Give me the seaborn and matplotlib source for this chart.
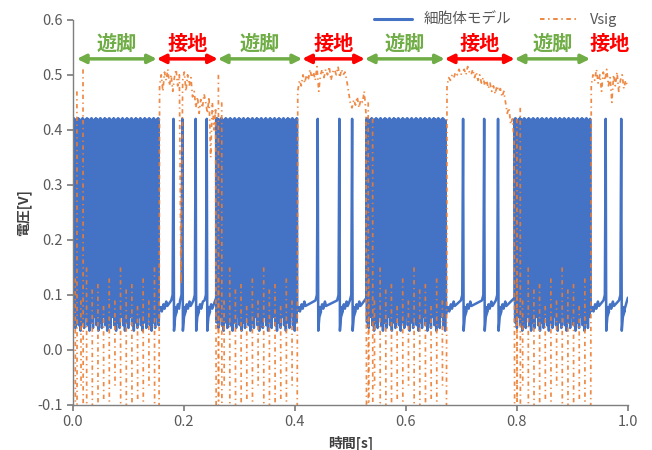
import numpy as np
import pandas as pd
import seaborn as sns
import matplotlib.pyplot as plt
from matplotlib.lines import Line2D
from matplotlib.ticker import FormatStrFormatter

# phase boundaries [s]
swing_start = [0.0, 0.258, 0.529, 0.796]
swing_end = [0.155, 0.404, 0.673, 0.933]
t_end = 1.0

# phase arrows (遊脚 / 接地) along the top
arrow_x0 = [0.007, 0.151, 0.261, 0.413, 0.526, 0.670, 0.796, 0.932]
arrow_x1 = [0.151, 0.261, 0.413, 0.526, 0.670, 0.796, 0.932, 1.004]
arrow_lab = ['遊脚', '接地', '遊脚', '接地', '遊脚', '接地', '遊脚', '接地']

# cell model (blue)
spike_t = [0.181, 0.197, 0.221, 0.241, 0.441, 0.480, 0.503,
           0.703, 0.741, 0.766, 0.960, 0.988]
swing_hi = [0.42, 0.415, 0.421, 0.417, 0.419]
swing_lo = [0.05, 0.08, 0.04, 0.07, 0.06, 0.09, 0.045, 0.075, 0.035, 0.065]
spike_dt = [-0.004, -0.0015, 0.0, 0.001, 0.003, 0.006]
spike_v = [0.09, 0.10, 0.42, 0.035, 0.06, 0.07]
creep_dt = [0.003, 0.005, 0.008, 0.010, 0.013, 0.015]
creep_v = [0.078, 0.07, 0.083, 0.075, 0.088, 0.08]

# Vsig (orange): pulses during swing, noisy plateau during stance
pulse_gap = 0.0102
pulse_top = [0.13, 0.09, 0.15, 0.11, 0.12, 0.08]
pulse_bot = [-0.15, -0.07, -0.15, -0.12, -0.15, -0.09]
tall_t = [0.007, 0.018, 0.262, 0.268, 0.532, 0.540, 0.800, 0.806]
tall_v = [0.47, 0.51, 0.50, 0.45, 0.45, 0.42, 0.42, 0.44]
stance_v = [
    [0.48, 0.50, 0.47, 0.505, 0.49, 0.51, 0.48, 0.50, 0.47, 0.495, 0.51, 0.48,
     0.50, 0.12, 0.49, 0.505, 0.47, 0.50, 0.48, 0.495, 0.46, 0.47, 0.44, 0.46,
     0.43, 0.455, 0.44, 0.465, 0.45, 0.43, 0.46, 0.35, 0.45, 0.40, 0.44],
    [0.47, 0.49, 0.48, 0.50, 0.485, 0.50, 0.49, 0.51, 0.495, 0.505, 0.49, 0.515,
     0.47, 0.50, 0.51, 0.495, 0.51, 0.50, 0.515, 0.49, 0.505, 0.51, 0.50, 0.515,
     0.495, 0.51, 0.50, 0.505, 0.49, 0.47, 0.45, 0.44, 0.455, 0.445, 0.46, 0.44,
     0.455, 0.45, 0.47, 0.43],
    [0.48, 0.495, 0.49, 0.50, 0.495, 0.505, 0.50, 0.51, 0.50, 0.505, 0.51, 0.50,
     0.515, 0.505, 0.50, 0.51, 0.495, 0.505, 0.49, 0.50, 0.485, 0.495, 0.48, 0.49,
     0.475, 0.485, 0.47, 0.48, 0.465, 0.48, 0.47, 0.475, 0.46, 0.47, 0.45, 0.43,
     0.44, 0.41, 0.42, 0.38],
    [0.48, 0.50, 0.49, 0.51, 0.485, 0.50, 0.47, 0.505, 0.49, 0.51, 0.48, 0.495,
     0.45, 0.50, 0.48, 0.505, 0.47, 0.49, 0.50, 0.475, 0.49, 0.48],
]

BLUE = '#4472C4'
ORANGE = '#ED7D31'
GREEN = '#70AD47'
RED = '#FF0000'
GRAY = '#595959'

# ---- build the cell model trace
stance_start = swing_end
stance_end = swing_start[1:] + [t_end]
bt, bv = [], []
for i in range(4):
    ts = np.arange(swing_start[i], swing_end[i], 0.0008)
    for k, t in enumerate(ts):
        bt.append(t)
        bv.append(swing_hi[k % len(swing_hi)] if k % 2 == 0 else swing_lo[(k // 2) % len(swing_lo)])
    a, b = stance_start[i], stance_end[i]
    bt.append(a); bv.append(0.07)
    marks = [a] + [s for s in spike_t if a < s < b]
    for j, m in enumerate(marks):
        nxt = marks[j + 1] if j + 1 < len(marks) else b
        for d, v in zip(creep_dt, creep_v):
            if m + d < nxt - 0.005:
                bt.append(m + d); bv.append(v)
        if j + 1 < len(marks):
            for d, v in zip(spike_dt, spike_v):
                bt.append(nxt + d); bv.append(v)
    bt.append(b); bv.append(0.095)
blue = pd.DataFrame({'t': bt, 'v': bv})

# ---- build Vsig as separate strokes (units)
ot, ov, ou = [], [], []
seg = 0
for i in range(4):
    p = swing_start[i] + 0.004
    k = 0
    while p < swing_end[i] - 0.002:
        ot += [p, p + 0.0003]
        ov += [pulse_top[k % len(pulse_top)], pulse_bot[k % len(pulse_bot)]]
        ou += [seg, seg]
        seg += 1
        p += pulse_gap
        k += 1
for t, v in zip(tall_t, tall_v):
    ot += [t, t + 0.0003]
    ov += [v, -0.15]
    ou += [seg, seg]
    seg += 1
for i in range(4):
    a, b = stance_start[i], stance_end[i]
    vals = stance_v[i]
    tt = np.linspace(a + 0.001, b - 0.001, len(vals))
    ot += [a] + list(tt)
    ov += [-0.15] + vals
    ou += [seg] * (len(vals) + 1)
    if i < 3:
        ot.append(b); ov.append(-0.15); ou.append(seg)
    seg += 1
vsig = pd.DataFrame({'t': ot, 'v': ov, 'u': ou})

# ---- plot
sns.set_theme(style='white')
plt.rcParams['font.family'] = ['Noto Sans CJK JP', 'DejaVu Sans']
plt.rcParams['axes.unicode_minus'] = False

fig, ax = plt.subplots(figsize=(6.52, 4.5), dpi=100)
fig.subplots_adjust(left=0.112, right=0.963, top=0.956, bottom=0.1)

sns.lineplot(data=blue, x='t', y='v', sort=False, estimator=None,
             color=BLUE, lw=1.8, ax=ax)
dash = (0, (2.5, 2, 0.8, 2))
sns.lineplot(data=vsig, x='t', y='v', units='u', sort=False, estimator=None,
             color=ORANGE, lw=1.25, linestyle=dash, alpha=0.9, ax=ax)

for x0, x1, lab in zip(arrow_x0, arrow_x1, arrow_lab):
    c = GREEN if lab == '遊脚' else RED
    ax.annotate('', xy=(x1, 0.529), xytext=(x0, 0.529),
                arrowprops=dict(arrowstyle='<|-|>', color=c, lw=2.5,
                                mutation_scale=13, shrinkA=0, shrinkB=0))
    ax.text((x0 + x1) / 2, 0.557, lab, color=c, fontsize=14.5,
            fontweight='bold', ha='center', va='center')

ax.set_xlim(0, 1.0)
ax.set_ylim(-0.1, 0.6)
ax.set_xticks(np.arange(0, 1.01, 0.2))
ax.set_yticks(np.arange(-0.1, 0.61, 0.1))
ax.xaxis.set_major_formatter(FormatStrFormatter('%.1f'))
ax.yaxis.set_major_formatter(FormatStrFormatter('%.1f'))
ax.tick_params(bottom=True, left=True, direction='out', length=4,
               color='#7f7f7f', labelcolor=GRAY, labelsize=10.5)
sns.despine(ax=ax)
for s in ['left', 'bottom']:
    ax.spines[s].set_color('#7f7f7f')
    ax.spines[s].set_linewidth(1)

ax.set_xlabel('時間[s]', fontsize=10, fontweight='bold', color='#404040')
ax.set_ylabel('電圧[V]', fontsize=10, fontweight='bold', color='#404040')

handles = [Line2D([], [], color=BLUE, lw=2.2),
           Line2D([], [], color=ORANGE, lw=1.3, linestyle=dash)]
fig.legend(handles, ['細胞体モデル', 'Vsig'], loc='upper right',
           bbox_to_anchor=(0.967, 1.0), ncol=2, frameon=False, fontsize=10.5,
           labelcolor=GRAY, handlelength=2.6, columnspacing=2.0)

fig.savefig('out.png', dpi=100)
